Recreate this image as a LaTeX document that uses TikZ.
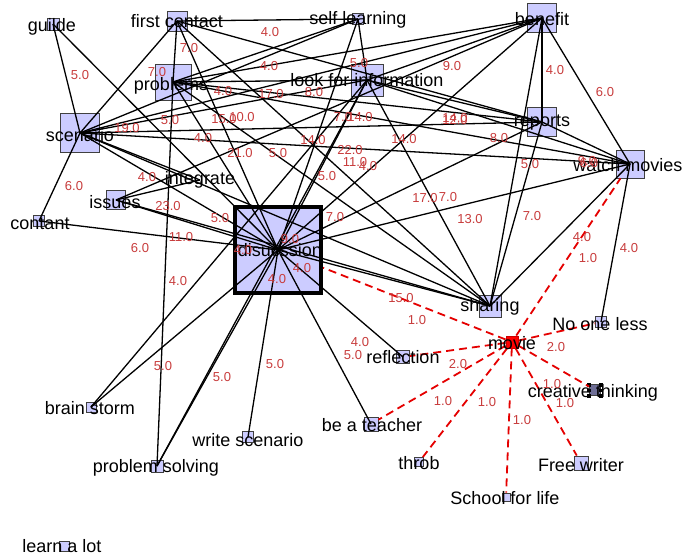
\documentclass[tikz,border=0pt]{standalone}
\usepackage{fontspec}
\setmainfont{Liberation Sans}
\definecolor{lav}{RGB}{204,204,255}
\definecolor{wred}{RGB}{200,60,60}
\definecolor{ctfill}{RGB}{110,110,150}
\begin{document}
\begin{tikzpicture}[x=1pt,y=-1pt,
  vb/.style={draw=black!75,fill=lav,minimum size=#1,inner sep=0pt,line width=0.9pt},
  vt/.style={font=\fontsize{18}{18}\selectfont,inner sep=0pt,anchor=center},
  wl/.style={font=\fontsize{13}{13}\selectfont,text=wred,inner sep=0pt},
  blk/.style={line width=1.3pt,black},
  redge/.style={line width=1.8pt,red!90!black,dash pattern=on 8pt off 5pt},
]
\useasboundingbox[fill=white] (0,0) rectangle (682,556);
% vertex boxes
\node[vb=12pt] (g) at (53,24) {};
\node[vb=20pt] (fc) at (177,21) {};
\node[vb=11pt] (sl) at (358,19) {};
\node[vb=29pt] (b) at (542,18) {};
\node[vb=36pt] (p) at (173,82) {};
\node[vb=32pt] (lfi) at (367,80) {};
\node[vb=39pt] (s) at (80,133) {};
\node[vb=29pt] (r) at (542,122) {};
\node[vb=28pt] (wm) at (630,164) {};
\node[inner sep=0pt,minimum size=2pt] (ig) at (200,180) {};
\node[vb=19pt] (is) at (116,200) {};
\node[vb=11pt] (c) at (39,221) {};
\node[vb=86pt,draw=black,line width=4pt] (d) at (278,250) {};
\node[vb=22pt] (sh) at (490,306) {};
\node[vb=11pt] (nol) at (601,322) {};
\node[vb=12pt,fill=red,draw=red!80!black] (m) at (512,342) {};
\node[vb=13pt] (rf) at (403,357) {};
\node[vb=11pt,fill=ctfill] (ct) at (595,390) {};
\node[vb=10pt] (bs) at (91,407) {};
\node[vb=11pt] (ws) at (248,437) {};
\node[vb=14pt] (bt) at (371,424) {};
\node[vb=9pt] (th) at (419,462) {};
\node[vb=14pt] (fw) at (581,463) {};
\node[vb=8pt] (sfl) at (506,497) {};
\node[vb=12pt] (ps) at (157,466) {};
\node[vb=10pt] (lal) at (64,546) {};
% selection handles on creative thinking
\draw[line width=3.5pt,dash pattern=on 3.5pt off 2pt] (589,383) -- (589,399);
\draw[line width=3.5pt,dash pattern=on 3.5pt off 2pt] (601,383) -- (601,399);
% black edges
\foreach \a/\b in {fc/sl,fc/p,fc/s,fc/d,fc/r,fc/sh,
  g/s,g/d,
  s/c,s/sl,s/b,s/lfi,s/r,s/wm,s/ig,s/d,s/sh,
  p/sl,p/lfi,p/b,p/r,p/wm,p/d,p/sh,p/ps,
  sl/lfi,sl/d,
  lfi/b,lfi/r,lfi/wm,lfi/sh,lfi/ps,lfi/bs,lfi/d,
  b/r,b/wm,b/sh,b/d,b/is,
  r/wm,r/sh,r/d,
  wm/nol,wm/sh,wm/d,
  is/ig,is/d,is/sh,
  c/d,
  d/sh,d/bs,d/ps,d/ws,d/bt,d/rf}
  \draw[blk] (\a.center) -- (\b.center);
% red dashed edges
\foreach \b in {d,rf,bt,th,sfl,fw,ct,nol,wm}
  \draw[redge] (m) -- (\b);
% vertex labels
\node[vt] (tg) at (52,27) {guilde};
\node[vt] (tfc) at (177,21) {first contact};
\node[vt] (tsl) at (358,20) {self learning};
\node[vt] (tb) at (542,19) {benefit};
\node[vt] (tp) at (171,86) {problems};
\node[vt] (tlfi) at (367,80) {look for information};
\node[vt] (ts) at (80,135) {scenario};
\node[vt] (tr) at (542,123) {reports};
\node[vt] (twm) at (628,165) {watch movies};
\node[vt] (tig) at (200,180) {integrate};
\node[vt] (tis) at (115,202) {issues};
\node[vt] (tc) at (40,224) {contant};
\node[vt] (td) at (280,250) {disucssion};
\node[vt] (tsh) at (490,307) {sharing};
\node[vt] (tnol) at (600,324) {No one less};
\node[vt] (tm) at (512,343) {movie};
\node[vt] (trf) at (403,357) {reflection};
\node[vt] (tct) at (593,393) {creative thinking};
\node[vt] (tbs) at (90,408) {brain storm};
\node[vt] (tws) at (248,440) {write scenario};
\node[vt] (tbt) at (372,425) {be a teacher};
\node[vt] (tth) at (419,463) {throb};
\node[vt] (tfw) at (581,465) {Free writer};
\node[vt] (tsfl) at (505,498) {School for life};
\node[vt] (tps) at (156,468) {problem solving};
\node[vt] (tlal) at (62,546) {learn a lot};
% weight labels
\foreach \t/\x/\y [count=\i] in {
  7.0/189/48, 5.0/80/75, 7.0/157/72, 4.0/270/32, 4.0/269/66, 5.0/359/63,
  9.0/452/66, 4.0/555/70, 6.0/605/92, 4.0/223/91, 17.0/271/94, 8.0/314/92,
  5.0/170/120, 19.0/127/128, 15.0/224/119, 10.0/242/117, 4.0/203/138,
  21.0/240/153, 5.0/278/153, 14.0/313/140, 7.0/343/117, 14.0/360/117,
  14.0/404/139, 22.0/350/150, 11.0/355/162, 4.0/368/166, 5.0/327/176,
  14.0/455/118, 12.0/455/120, 8.0/499/138, 5.0/530/164, 9.0/587/161, 6.0/589/163,
  4.0/147/177, 6.0/74/186, 23.0/168/206, 5.0/220/218, 11.0/181/237,
  6.0/140/248, 4.0/178/281, 7.0/335/217, 9.0/290/239, 4.0/243/250,
  4.0/302/268, 4.0/277/279, 17.0/425/198, 7.0/448/197, 13.0/470/219,
  7.0/532/216, 4.0/582/237, 1.0/588/258, 4.0/629/248, 15.0/401/298,
  1.0/417/320, 4.0/360/342, 5.0/353/355, 2.0/556/347, 2.0/458/364,
  5.0/163/366, 5.0/222/377, 5.0/275/364, 1.0/443/401, 1.0/487/402,
  1.0/522/420, 1.0/552/384, 1.0/565/403}
  \node[wl] (w\i) at (\x,\y) {\t};
\end{tikzpicture}
\end{document}
